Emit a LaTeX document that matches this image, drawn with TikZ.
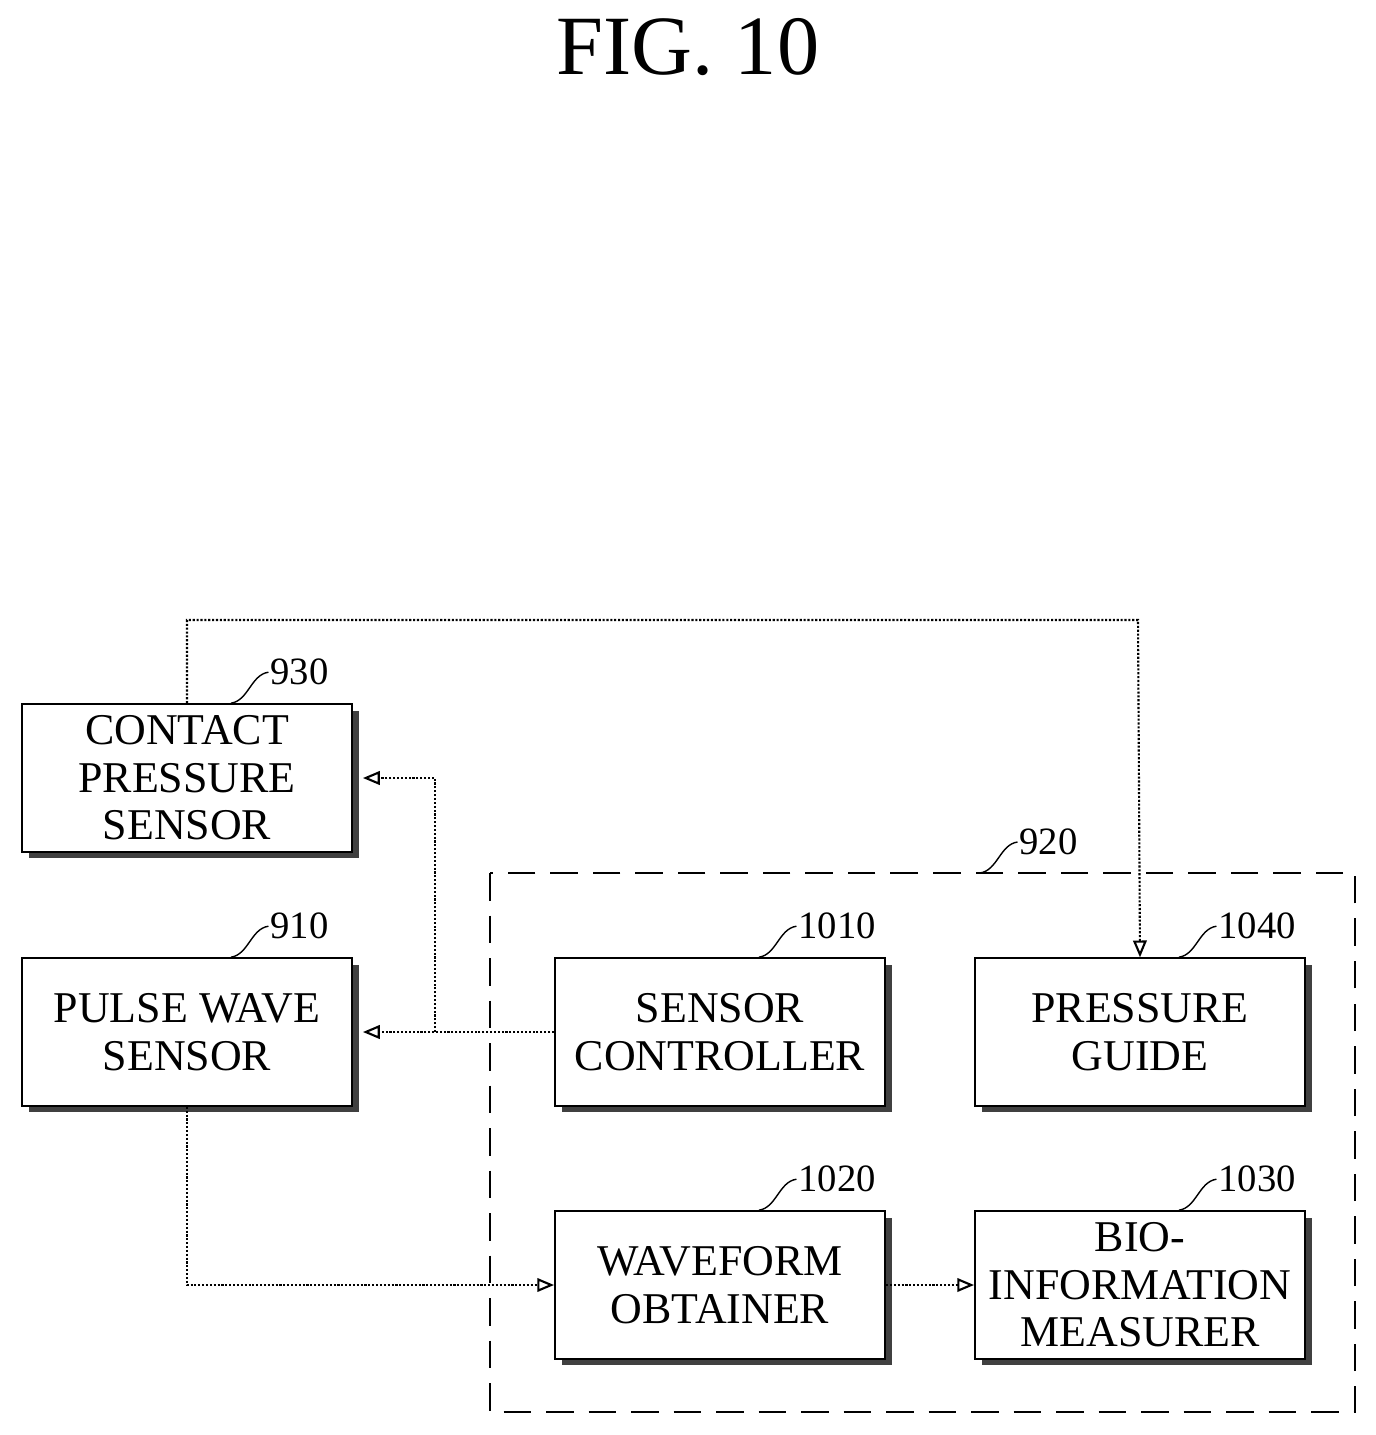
\documentclass[tikz,border=0pt]{standalone}
\usepackage{fontspec}
\setmainfont{Liberation Serif}
\usetikzlibrary{shadows, arrows, calc, positioning}

\tikzset{
  block/.style={draw, very thick, fill=white, align=center, minimum width=6.6cm, minimum height=2.95cm,
    font=\fontsize{25}{27}\selectfont, inner sep=2pt,
    drop shadow={shadow xshift=0.13cm, shadow yshift=-0.13cm, fill=black!75, opacity=1}},
  flow/.style={densely dotted, very thick, -open triangle 45, >=open triangle 45, arrows={-open triangle 45[scale=1.6]}},
  refnum/.style={anchor=west, inner sep=1pt, font=\fontsize{22}{24}\selectfont}
}

\newcommand{\refmark}[3]{%
  \draw[thick] (#1) .. controls +(0.35,0.05) and +(-0.35,-0.05) .. ++(0.75,0.62) coordinate (#2);
  \node[refnum] at (#2) {#3};}

\begin{document}
\begin{tikzpicture}
    % Frame
    \useasboundingbox (0,0) rectangle (27.5,-28.7);

    \node[font=\fontsize{48}{50}\selectfont] (title) at (13.76,-0.95) {FIG. 10};

    % Module 920
    \draw[very thick, dash pattern=on 0.55cm off 0.3cm] (9.8,-17.46) rectangle (27.1,-28.24);
    \coordinate (g0) at (19.6,-17.46);
    \refmark{g0}{g1}{920}

    % Blocks
    \node[block] (contact) at (3.74,-15.56) {CONTACT\\PRESSURE\\SENSOR};
    \node[block] (pulse) at (3.74,-20.64) {PULSE WAVE\\SENSOR};
    \node[block] (ctrl) at (14.4,-20.64) {SENSOR\\CONTROLLER};
    \node[block] (guide) at (22.8,-20.64) {PRESSURE\\GUIDE};
    \node[block] (wave) at (14.4,-25.7) {WAVEFORM\\OBTAINER};
    \node[block] (bio) at (22.8,-25.7) {BIO-\\INFORMATION\\MEASURER};

    % Reference numbers
    \coordinate (c0) at ($(contact.north west)+(4.2,0)$);
    \refmark{c0}{c1}{930}
    \coordinate (p0) at ($(pulse.north west)+(4.2,0)$);
    \refmark{p0}{p1}{910}
    \coordinate (s0) at ($(ctrl.north west)+(4.1,0)$);
    \refmark{s0}{s1}{1010}
    \coordinate (q0) at ($(guide.north west)+(4.1,0)$);
    \refmark{q0}{q1}{1040}
    \coordinate (w0) at ($(wave.north west)+(4.1,0)$);
    \refmark{w0}{w1}{1020}
    \coordinate (b0) at ($(bio.north west)+(4.1,0)$);
    \refmark{b0}{b1}{1030}

    % Connectors
    \coordinate (split) at (8.7,-20.64);
    \draw[flow] (ctrl.west) -- ($(pulse.east)+(0.2,0)$);
    \draw[flow] (split) |- ($(contact.east)+(0.2,0)$);
    \draw[flow] (contact.north) |- (22.76,-12.4) -- (guide.north);
    \draw[flow] (pulse.south) |- (wave.west);
    \draw[flow] (wave.east) -- (bio.west);

  \end{tikzpicture}
\end{document}
